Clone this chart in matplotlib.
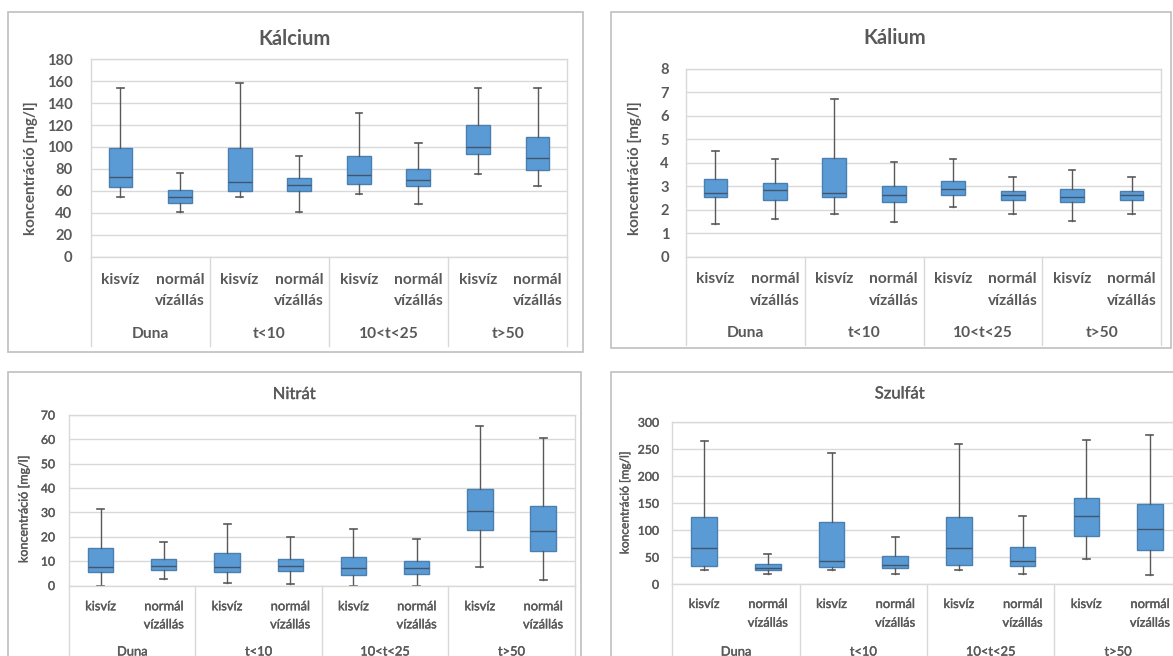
import matplotlib
matplotlib.use('Agg')
import matplotlib.pyplot as plt
from matplotlib.patches import Rectangle
from matplotlib.transforms import blended_transform_factory
import matplotlib.patheffects as pe
import numpy as np

plt.rcParams['font.family'] = ['Lato', 'DejaVu Sans']

W, H = 1173, 656

groups = ['Duna', 't<10', '10<t<25', 't>50']
levels = ['kisvíz', 'normál\nvízállás']
ylabel = 'koncentráció [mg/l]'

# Kálcium
ca_low = [54, 41, 54, 41, 57, 48, 75, 64]
ca_q1 = [63, 49, 60, 60, 66, 64, 94, 79]
ca_med = [73, 54, 68, 65, 74, 70, 100, 90]
ca_q3 = [99, 61, 99, 72, 92, 80, 120, 109]
ca_high = [154, 76, 158, 92, 131, 104, 154, 154]
ca_ticks = [0, 20, 40, 60, 80, 100, 120, 140, 160, 180]

# Kálium
k_low = [1.4, 1.6, 1.83, 1.47, 2.11, 1.83, 1.5, 1.83]
k_q1 = [2.52, 2.41, 2.52, 2.32, 2.61, 2.41, 2.32, 2.41]
k_med = [2.72, 2.82, 2.72, 2.61, 2.9, 2.61, 2.56, 2.61]
k_q3 = [3.31, 3.12, 4.19, 2.99, 3.23, 2.8, 2.86, 2.8]
k_high = [4.5, 4.18, 6.7, 4.05, 4.18, 3.4, 3.7, 3.4]
k_ticks = [0, 1, 2, 3, 4, 5, 6, 7, 8]

# Nitrát
n_low = [0, 2.7, 1.1, 0.8, 0, 0, 7.8, 2.1]
n_q1 = [5.5, 6.2, 5.5, 5.9, 4.5, 4.8, 22.9, 14.3]
n_med = [7.8, 8.1, 7.7, 8.0, 7.1, 7.1, 30.5, 22.2]
n_q3 = [15.6, 11.0, 13.4, 11.0, 11.8, 10.2, 39.8, 32.6]
n_high = [31.3, 17.7, 25.2, 19.8, 23.0, 19.1, 65.4, 60.5]
n_ticks = [0, 10, 20, 30, 40, 50, 60, 70]

# Szulfát
s_low = [26, 19.5, 26, 19.5, 26, 19.5, 47, 17]
s_q1 = [33, 26, 32, 29.6, 36, 33.4, 89.5, 63.7]
s_med = [67.5, 31, 44, 36.6, 67, 43.5, 126, 102]
s_q3 = [125.5, 37.8, 116, 53, 125, 70, 160, 149]
s_high = [265, 56, 243, 88, 260.5, 126, 266.7, 276.8]
s_ticks = [0, 50, 100, 150, 200, 250, 300]

TXT = '#595959'
GRID = '#D9D9D9'

fig = plt.figure(figsize=(W / 100, H / 100), dpi=100)
fig.patch.set_facecolor('white')


def panel(title, low, q1, med, q3, high, ticks, lay):
    bx0, by0, bx1, by1 = lay['border']
    fig.add_artist(Rectangle((bx0 / W, 1 - by1 / H), (bx1 - bx0) / W, (by1 - by0) / H,
                             transform=fig.transFigure, fill=False, ec='#BFBFBF', lw=1.2))
    px0, py0, px1, py1 = lay['plot']
    ah = py1 - py0
    ax = fig.add_axes([px0 / W, 1 - py1 / H, (px1 - px0) / W, ah / H])
    stats = [dict(med=m, q1=a, q3=b, whislo=l, whishi=h, fliers=[])
             for l, a, m, b, h in zip(low, q1, med, q3, high)]
    ax.bxp(stats, positions=np.arange(len(stats)), widths=0.4, patch_artist=True,
           showfliers=False, capwidths=0.11,
           boxprops=dict(facecolor='#5B9BD5', edgecolor='#4A7FB0', lw=1.0),
           medianprops=dict(color='#44546A', lw=1.0),
           whiskerprops=dict(color='#595959', lw=1.0),
           capprops=dict(color='#595959', lw=1.2))
    ax.set_xlim(-0.5, len(stats) - 0.5)
    ax.set_ylim(ticks[0], ticks[-1])
    ax.set_yticks(ticks)
    ax.set_yticklabels([str(t) for t in ticks])
    ax.set_xticks([])
    ax.set_axisbelow(True)
    ax.yaxis.grid(True, color=GRID, lw=1.0)
    for s in ax.spines.values():
        s.set_color(GRID)
        s.set_linewidth(1.0)
    fw = lay['weight']
    eff = [pe.withStroke(linewidth=lay['stroke'], foreground=TXT)] if lay['stroke'] else []
    ax.tick_params(axis='y', length=0, pad=lay['ypad'], labelsize=lay['tick_fs'],
                   labelcolor=TXT)
    for lab in ax.get_yticklabels():
        lab.set_fontweight(fw)
        lab.set_path_effects(eff)
    tr = blended_transform_factory(ax.transData, ax.transAxes)

    def yf(py):
        return -(py - py1) / ah

    ng = len(groups)
    per = len(stats) // ng
    for xb in np.arange(ng + 1) * per - 0.5:
        ax.plot([xb, xb], [0, yf(lay['sep'])], transform=tr, color=GRID, lw=1.0,
                clip_on=False)
    for i in range(len(stats)):
        lines = levels[i % per].split('\n')
        for j, line in enumerate(lines):
            ax.text(i, yf(lay['rows'][j]), line, transform=tr, ha='center', va='center',
                    fontsize=lay['cat_fs'], color=TXT, fontweight=fw, path_effects=eff)
    for g, name in enumerate(groups):
        ax.text(g * per + (per - 1) / 2, yf(lay['grp']), name, transform=tr,
                ha='center', va='center', fontsize=lay['cat_fs'], color=TXT,
                fontweight=fw, path_effects=eff)
    tx, ty = lay['title']
    fig.text(tx / W, 1 - ty / H, title, ha='center', va='center',
             fontsize=lay['title_fs'], color=TXT, fontweight=lay['title_w'],
             path_effects=eff)
    lx, ly = lay['ylab']
    fig.text(lx / W, 1 - ly / H, ylabel, rotation=90, ha='center', va='center',
             fontsize=lay['ylab_fs'], color=TXT, fontweight=fw, path_effects=eff)
    return ax


top = dict(weight='bold', title_w='bold', tick_fs=10.6, cat_fs=11.2, title_fs=14.5,
           ylab_fs=11, stroke=0)
bot = dict(weight='normal', title_w='normal', tick_fs=8.8, cat_fs=9.3, title_fs=12,
           ylab_fs=9.0, stroke=0.28)

lay_tl = dict(top, border=(7.7, 11.7, 583.4, 352), plot=(90.7, 59.3, 567.3, 256.5),
              title=(295, 38.7), ylab=(31, 168), rows=(279.6, 301.2), grp=334.4,
              sep=346, ypad=13)
lay_tr = dict(top, border=(610.7, 11.7, 1171, 348.3), plot=(685.7, 69, 1161.3, 256.5),
              title=(894.5, 38), ylab=(635, 168), rows=(279.3, 300.6), grp=333,
              sep=345, ypad=12)
lay_bl = dict(bot, border=(7.7, 371.7, 580.5, 720), plot=(69, 415, 574.7, 585.5),
              title=(294, 394), ylab=(23, 509), rows=(606.3, 624.4), grp=651.5,
              sep=690, ypad=10)
lay_br = dict(bot, border=(610.7, 371.7, 1230, 720), plot=(672.3, 422.3, 1181.8, 584.3),
              title=(899.7, 393.4), ylab=(625, 503), rows=(604, 622.7), grp=651.6,
              sep=690, ypad=9.5)
lay_br['ylab_fs'] = 8.6

panel('Kálcium', ca_low, ca_q1, ca_med, ca_q3, ca_high, ca_ticks, lay_tl)
panel('Kálium', k_low, k_q1, k_med, k_q3, k_high, k_ticks, lay_tr)
panel('Nitrát', n_low, n_q1, n_med, n_q3, n_high, n_ticks, lay_bl)
panel('Szulfát', s_low, s_q1, s_med, s_q3, s_high, s_ticks, lay_br)

fig.savefig('out.png', dpi=100)
